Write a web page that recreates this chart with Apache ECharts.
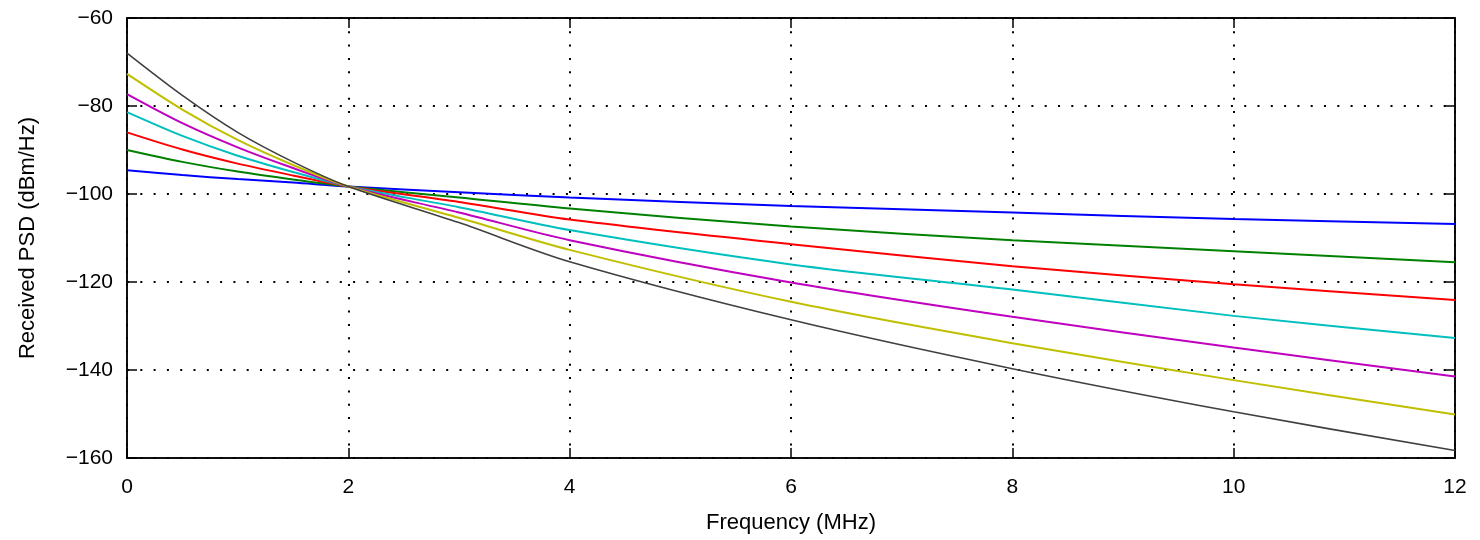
<!DOCTYPE html>
<html>
<head>
<meta charset="utf-8">
<script src="https://cdn.jsdelivr.net/npm/echarts@6/dist/echarts.min.js"></script>
<style>html,body{margin:0;padding:0;background:#fff}#c{width:1480px;height:540px}</style>
</head>
<body>
<div id="c"></div>
<script>
const freq = [0, 0.5, 1, 1.5, 2, 3, 4, 6, 8, 10, 12];
const blue    = [-94.6, -95.7, -96.6, -97.4, -98.3, -99.6, -100.8, -102.7, -104.2, -105.7, -106.8];
const green   = [-90.0, -92.7, -94.9, -96.7, -98.3, -100.8, -103.3, -107.4, -110.5, -113.0, -115.5];
const red     = [-86.0, -89.9, -93.1, -95.8, -98.3, -101.8, -105.8, -111.4, -116.4, -120.5, -124.1];
const cyan    = [-81.4, -86.8, -91.3, -95.0, -98.3, -103.0, -108.2, -116.0, -121.7, -127.7, -132.7];
const magenta = [-77.3, -83.9, -89.4, -94.1, -98.3, -104.2, -110.5, -120.1, -127.9, -134.9, -141.5];
const yellow  = [-72.7, -80.8, -87.7, -93.4, -98.3, -105.4, -112.7, -124.5, -133.9, -142.3, -150.1];
const black   = [-68.0, -77.6, -86.0, -92.7, -98.3, -106.5, -115.4, -128.6, -139.7, -149.5, -158.3];
const xTicks = [0, 2, 4, 6, 8, 10, 12];
const yTicks = [-160, -140, -120, -100, -80, -60];

const seriesDefs = [
  ['blue', blue, '#0000ff', 2],
  ['green', green, '#008000', 2],
  ['red', red, '#ff0000', 2],
  ['cyan', cyan, '#00bfbf', 2],
  ['magenta', magenta, '#bf00bf', 2],
  ['yellow', yellow, '#bfbf00', 2],
  ['black', black, '#404040', 1.6]
];

const font = '"Liberation Sans", Arial, sans-serif';
const minus = v => String(v).replace('-', '\u2212');
const grid = {left: 127, right: 25, top: 18, bottom: 82, show: true, borderColor: '#000', borderWidth: 1.5};

const chart = echarts.init(document.getElementById('c'), null, {renderer: 'canvas'});
chart.setOption({
  animation: false,
  backgroundColor: '#fff',
  grid: grid,
  xAxis: [{
    type: 'value', min: xTicks[0], max: xTicks[xTicks.length - 1], interval: 2,
    name: 'Frequency (MHz)', nameLocation: 'middle', nameGap: 54,
    nameTextStyle: {fontFamily: font, fontSize: 22, color: '#000'},
    axisLine: {show: true, onZero: false, lineStyle: {color: '#000', width: 1.5}},
    axisTick: {show: true, inside: true, length: 10, lineStyle: {color: '#000', width: 1.5}},
    axisLabel: {fontFamily: font, fontSize: 21, color: '#000', margin: 19, formatter: minus},
    splitLine: {show: true, lineStyle: {color: '#000', width: 2, type: [2, 11.3]}}
  }, {
    type: 'value', min: xTicks[0], max: xTicks[xTicks.length - 1], interval: 2, position: 'top',
    axisLine: {show: true, onZero: false, lineStyle: {color: '#000', width: 1.5}},
    axisTick: {show: true, inside: true, length: 10, lineStyle: {color: '#000', width: 1.5}},
    axisLabel: {show: false}, splitLine: {show: false}
  }],
  yAxis: [{
    type: 'value', min: yTicks[0], max: yTicks[yTicks.length - 1], interval: 20,
    name: 'Received PSD (dBm/Hz)', nameLocation: 'middle', nameGap: 88,
    nameTextStyle: {fontFamily: font, fontSize: 22, color: '#000'},
    axisLine: {show: true, onZero: false, lineStyle: {color: '#000', width: 1.5}},
    axisTick: {show: true, inside: true, length: 10, lineStyle: {color: '#000', width: 1.5}},
    axisLabel: {fontFamily: font, fontSize: 21, color: '#000', margin: 14, formatter: minus},
    splitLine: {show: true, lineStyle: {color: '#000', width: 2, type: [2, 11.3]}}
  }, {
    type: 'value', min: yTicks[0], max: yTicks[yTicks.length - 1], interval: 20, position: 'right',
    axisLine: {show: true, onZero: false, lineStyle: {color: '#000', width: 1.5}},
    axisTick: {show: true, inside: true, length: 10, lineStyle: {color: '#000', width: 1.5}},
    axisLabel: {show: false}, splitLine: {show: false}
  }],
  series: seriesDefs.map(([name, vals, color, w]) => ({
    name: name, type: 'line', xAxisIndex: 0, yAxisIndex: 0,
    data: freq.map((f, i) => [f, vals[i]]),
    smooth: 0.3, showSymbol: false, symbol: 'none',
    lineStyle: {color: color, width: w}, z: 3
  }))
});
</script>
</body>
</html>
